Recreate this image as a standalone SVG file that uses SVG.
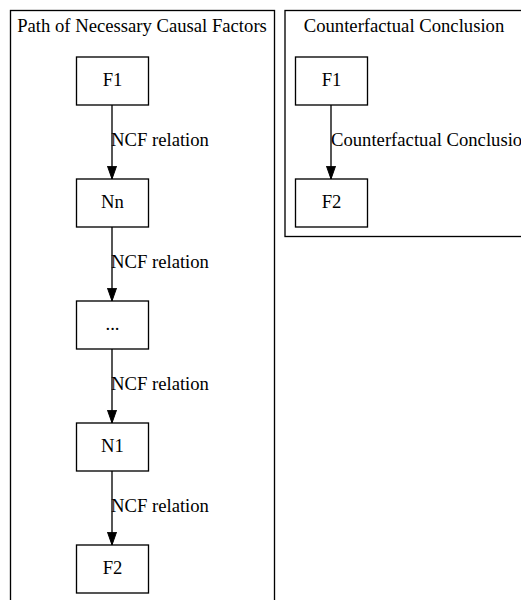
<svg xmlns="http://www.w3.org/2000/svg" width="521" height="600" viewBox="0 0 521 600">
  <style>
    text { font-family: "Liberation Serif", "Times New Roman", serif; font-size: 18.67px; fill: #000; }
    .mid { text-anchor: middle; }
    .cluster { fill: none; stroke: #000; stroke-width: 1.33; }
    .node rect { fill: #fff; stroke: #000; stroke-width: 1.33; }
    .edge { stroke: #000; stroke-width: 1.33; fill: none; }
  </style>
  <defs>
    <marker id="arrow" viewBox="0 0 14 10" refX="13.3" refY="5" markerWidth="14" markerHeight="10" markerUnits="userSpaceOnUse" orient="auto">
      <path d="M0.5,0.5 L13.3,5 L0.5,9.5 Z" fill="#000" stroke="#000" stroke-width="1"/>
    </marker>
  </defs>
  <rect width="521" height="600" fill="#fff"/>

  <!-- Clusters -->
  <g id="cluster_path">
    <rect class="cluster" x="10.5" y="10.5" width="264" height="600"/>
    <text class="mid" x="142" y="32">Path of Necessary Causal Factors</text>
  </g>
  <g id="cluster_conclusion">
    <rect class="cluster" x="285" y="10.5" width="240" height="226"/>
    <text class="mid" x="404" y="32">Counterfactual Conclusion</text>
  </g>

  <!-- Connectors -->
  <g id="edges">
    <line class="edge" x1="112" y1="105" x2="112" y2="179" marker-end="url(#arrow)"/>
    <text x="111" y="146">NCF relation</text>
    <line class="edge" x1="112" y1="227" x2="112" y2="301" marker-end="url(#arrow)"/>
    <text x="111" y="268">NCF relation</text>
    <line class="edge" x1="112" y1="349" x2="112" y2="423" marker-end="url(#arrow)"/>
    <text x="111" y="390">NCF relation</text>
    <line class="edge" x1="112" y1="471" x2="112" y2="545" marker-end="url(#arrow)"/>
    <text x="111" y="512">NCF relation</text>
    <line class="edge" x1="331" y1="105" x2="331" y2="179" marker-end="url(#arrow)"/>
    <text x="331" y="146">Counterfactual Conclusion</text>
  </g>

  <!-- Nodes: path of necessary causal factors -->
  <g id="path_F1" class="node">
    <rect x="76.5" y="57" width="72" height="48"/>
    <text class="mid" x="112.5" y="86">F1</text>
  </g>
  <g id="path_Nn" class="node">
    <rect x="76.5" y="179" width="72" height="48"/>
    <text class="mid" x="112.5" y="208">Nn</text>
  </g>
  <g id="path_dots" class="node">
    <rect x="76.5" y="301" width="72" height="48"/>
    <text class="mid" x="112.5" y="330">...</text>
  </g>
  <g id="path_N1" class="node">
    <rect x="76.5" y="423" width="72" height="48"/>
    <text class="mid" x="112.5" y="452">N1</text>
  </g>
  <g id="path_F2" class="node">
    <rect x="76.5" y="545" width="72" height="48"/>
    <text class="mid" x="112.5" y="574">F2</text>
  </g>

  <!-- Nodes: counterfactual conclusion -->
  <g id="cc_F1" class="node">
    <rect x="295.5" y="57" width="72" height="48"/>
    <text class="mid" x="331.5" y="86">F1</text>
  </g>
  <g id="cc_F2" class="node">
    <rect x="295.5" y="179" width="72" height="48"/>
    <text class="mid" x="331.5" y="208">F2</text>
  </g>
</svg>
